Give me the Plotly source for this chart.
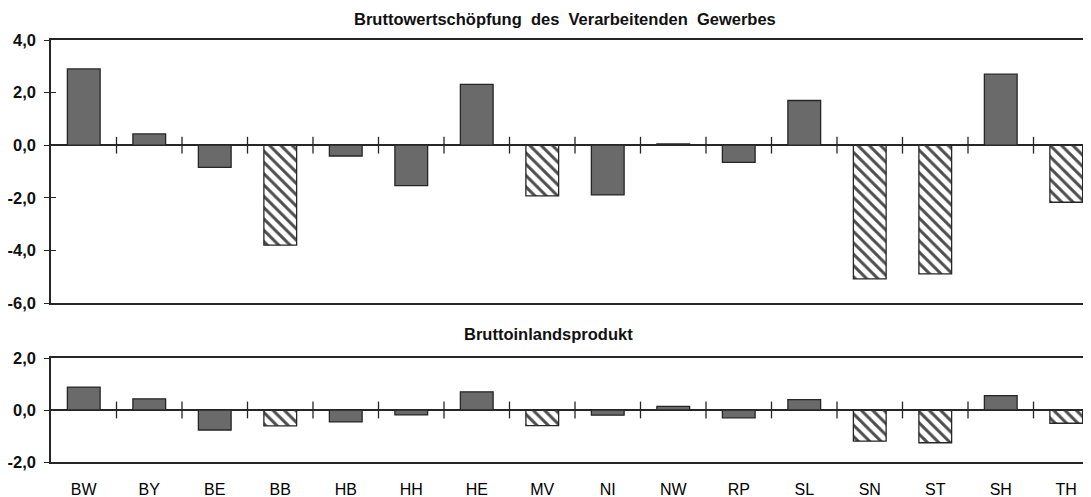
import plotly.graph_objects as go

categories = ["BW", "BY", "BE", "BB", "HB", "HH", "HE", "MV", "NI", "NW", "RP", "SL", "SN", "ST", "SH", "TH"]
bws_values = [2.9, 0.43, -0.84, -3.8, -0.41, -1.54, 2.31, -1.93, -1.89, 0.05, -0.65, 1.7, -5.08, -4.89, 2.7, -2.17]
bip_values = [0.88, 0.43, -0.77, -0.61, -0.46, -0.19, 0.7, -0.6, -0.2, 0.14, -0.3, 0.4, -1.2, -1.26, 0.55, -0.51]
hatched = [False, False, False, True, False, False, False, True, False, False, False, False, True, True, False, True]

top_title = "Bruttowertschöpfung  des  Verarbeitenden  Gewerbes"
bottom_title = "Bruttoinlandsprodukt"
top_tickvals = [4, 2, 0, -2, -4, -6]
top_ticktext = ["4,0", "2,0", "0,0", "-2,0", "-4,0", "-6,0"]
bottom_tickvals = [2, 0, -2]
bottom_ticktext = ["2,0", "0,0", "-2,0"]

# the page body has an 8px default margin; the figure is laid out in its own frame
OFF = 8
W, H = 1091 - OFF, 497 - OFF
L = 51 - OFF
cat_px = 65.5
x_range = [-0.5, -0.5 + (W - L) / cat_px]

SOLID = "#6a6a6a"
LINE = "#262626"
FONT = "Liberation Sans, Arial, sans-serif"

xpos = list(range(len(categories)))
colors = ["#4d4d4d" if h else SOLID for h in hatched]
shapes = ["\\" if h else "" for h in hatched]
boundaries = [i + 0.5 for i in range(len(categories) - 1)]

fig = go.Figure()

def add_bars(values, xa, ya):
    fig.add_trace(go.Bar(
        x=xpos, y=values, xaxis=xa, yaxis=ya, width=0.5,
        marker=dict(color=colors, line=dict(color=LINE, width=1.3),
                    pattern=dict(shape=shapes, fgcolor="#4d4d4d", bgcolor="white",
                                 size=8, solidity=0.38, fillmode="replace")),
        showlegend=False, hoverinfo="x+y"))

add_bars(bws_values, "x", "y")
add_bars(bip_values, "x2", "y2")

# category boundary ticks across the zero line
for xa, ya in (("x", "y3"), ("x2", "y4")):
    fig.add_trace(go.Scatter(
        x=boundaries, y=[0] * len(boundaries), xaxis=xa, yaxis=ya, mode="markers",
        marker=dict(symbol="line-ns-open", size=12, color=LINE,
                    line=dict(color=LINE, width=1.3)),
        showlegend=False, hoverinfo="skip"))

def py(p):
    return 1 - (p - OFF) / H

def px(p):
    return (p - OFF - L) / (W - L)

top_dom = [py(303), py(40)]
bot_dom = [py(462), py(358)]

tickfont = dict(family=FONT, size=16.5, color="#111", weight="bold")
xfont = dict(family=FONT, size=16, color="#000")

common_x = dict(range=x_range, showline=True, mirror=True, linecolor=LINE, linewidth=1.5,
                showgrid=False, zeroline=False, ticks="", tickvals=xpos, ticktext=categories,
                automargin=False, fixedrange=True)
common_y = dict(showline=True, mirror=False, linecolor=LINE, linewidth=1.5, showgrid=False,
                zeroline=True, zerolinecolor=LINE, zerolinewidth=1.5,
                ticks="outside", ticklen=5, tickwidth=1.3, tickcolor=LINE,
                tickfont=tickfont, ticklabelstandoff=5, automargin=False)
overlay_y = dict(showticklabels=False, ticks="inside", ticklen=5, tickwidth=1.3, tickcolor=LINE,
                 showgrid=False, zeroline=False, showline=False, automargin=False)

fig.update_layout(
    width=W, height=H,
    margin=dict(l=L, r=0, t=0, b=0, pad=0),
    paper_bgcolor="white", plot_bgcolor="white",
    xaxis=dict(domain=[0, 1], anchor="y", showticklabels=False, **common_x),
    xaxis2=dict(domain=[0, 1], anchor="y2", showticklabels=True, tickfont=xfont,
                ticklabelstandoff=12, **common_x),
    yaxis=dict(domain=top_dom, anchor="x", range=[-6, 4], tickvals=top_tickvals,
               ticktext=top_ticktext, **common_y),
    yaxis2=dict(domain=bot_dom, anchor="x2", range=[-2, 2], tickvals=bottom_tickvals,
                ticktext=bottom_ticktext, **common_y),
    yaxis3=dict(overlaying="y", anchor="x", range=[-6, 4], tickvals=top_tickvals, **overlay_y),
    yaxis4=dict(overlaying="y2", anchor="x2", range=[-2, 2], tickvals=bottom_tickvals, **overlay_y),
    annotations=[
        dict(text=top_title, xref="paper", yref="paper", x=px(565), y=py(19),
             xanchor="center", yanchor="middle", showarrow=False,
             font=dict(family=FONT, size=16.5, color="#111", weight="bold")),
        dict(text=bottom_title, xref="paper", yref="paper", x=px(548), y=py(334),
             xanchor="center", yanchor="middle", showarrow=False,
             font=dict(family=FONT, size=16.5, color="#111", weight="bold")),
    ],
)

fig.write_html("out.html")
